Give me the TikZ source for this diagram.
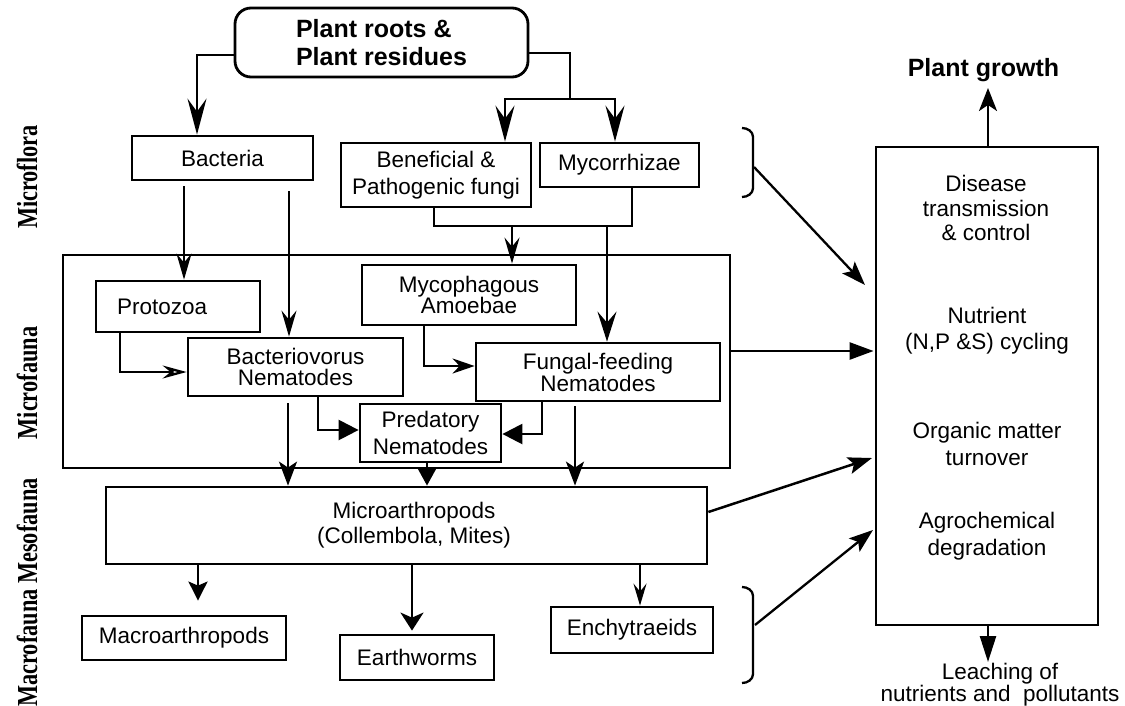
\documentclass[tikz,border=0pt]{standalone}
\usepackage{fontspec}
\setmainfont{Liberation Sans}
\newfontfamily\sidefont{Liberation Serif}
\usetikzlibrary{arrows.meta}
\tikzset{
  box/.style={draw, line width=2.8pt, inner sep=0pt, align=center, font=\fontsize{22.5}{27}\selectfont},
  txt/.style={inner sep=0pt, align=center, font=\fontsize{22.5}{24.5}\selectfont},
  conn/.style={line width=2.5pt},
  barb/.style={conn, -{Stealth[length=36pt,width=19pt,inset=13pt]}},
  medarrow/.style={conn, -{Stealth[length=26pt,width=15pt,inset=9pt]}},
  downarrow/.style={conn, -{Stealth[length=24pt,width=18pt,inset=6pt]}},
  openarrow/.style={line width=2.3pt, -{Stealth[open,length=24pt,width=13pt,inset=8pt]}},
  narrowarrow/.style={conn, -{Stealth[length=22pt,width=15pt,inset=7pt]}},
  tri/.style={conn, -{Triangle[length=20pt,width=20pt]}},
  lowarrow/.style={conn, -{Stealth[length=19pt,width=19pt,inset=4pt]}},
  sidearrow/.style={line width=2.3pt, -{Stealth[length=24pt,width=17pt,inset=5pt]}},
  bracket/.style={line width=2.3pt},
  side/.style={inner sep=0pt, rotate=90, font=\sidefont\bfseries\fontsize{29}{29}\selectfont},
}
\begin{document}
\begin{tikzpicture}[x=1pt,y=-1pt]
\useasboundingbox (0,0) rectangle (1125,705);

% side labels
\node[side] (lflora) at (27,177) {\scalebox{0.77}[1]{Microflora}};
\node[side] (lfauna) at (27,383) {\scalebox{0.77}[1]{Microfauna}};
\node[side] (lmeso) at (27,531) {\scalebox{0.77}[1]{Mesofauna}};
\node[side] (lmacro) at (27,648) {\scalebox{0.77}[1]{Macrofauna}};

% top source
\node[draw, line width=2.8pt, rounded corners=16pt, inner sep=0pt, minimum width=293pt, minimum height=69pt,
      align=left, font=\bfseries\fontsize{25}{28}\selectfont] (roots) at (381.5,42.5) {Plant roots \&\\Plant residues};

% microflora
\node[box, minimum width=181pt, minimum height=44pt] (bact) at (222.5,158) {Bacteria};
\node[box, minimum width=190pt, minimum height=64pt] (benef) at (436,175) {Beneficial \&\\Pathogenic fungi};
\node[box, minimum width=159pt, minimum height=44pt] (myco) at (619.5,165) {Mycorrhizae};

% microfauna frame
\node[draw, line width=2.8pt, inner sep=0pt, minimum width=667pt, minimum height=213pt] (mfbox) at (396.5,361.5) {};

\node[box, text width=122pt, inner xsep=21pt, align=left, minimum height=51pt] (proto) at (178,306.5) {Protozoa};
\node[box, minimum width=215pt, minimum height=58pt, font=\fontsize{22.5}{21}\selectfont] (bacnem) at (295.5,367) {Bacteriovorus\\Nematodes};
\node[box, minimum width=214pt, minimum height=60pt, font=\fontsize{22.5}{21}\selectfont] (mycoam) at (469,295) {Mycophagous\\Amoebae};
\node[box, minimum width=244pt, minimum height=58pt, font=\fontsize{22.5}{20.5}\selectfont] (fungnem) at (598,372) {Fungal-feeding\\Nematodes};
\node[box, minimum width=141pt, minimum height=58pt] (pred) at (430.5,433) {Predatory\\Nematodes};

% mesofauna
\node[box, minimum width=601pt, minimum height=77pt, font=\fontsize{22.5}{25}\selectfont] (microarth) at (406.5,525.5) {\hspace*{15pt}Microarthropods\\\hspace*{15pt}(Collembola, Mites)};

% macrofauna
\node[box, minimum width=204pt, minimum height=44pt] (macro) at (184,638) {Macroarthropods};
\node[box, minimum width=154pt, minimum height=45pt] (earth) at (417,657.5) {Earthworms};
\node[box, minimum width=162pt, minimum height=46pt] (ench) at (632,630) {Enchytraeids};

% right side
\node[draw, line width=2.8pt, inner sep=0pt, minimum width=222pt, minimum height=478pt] (rbox) at (987,386) {};
\node[txt] (dis) at (986,208) {Disease\\transmission\\\& control};
\node[txt, font=\fontsize{22.5}{26}\selectfont] (nut) at (987,331) {Nutrient\\(N,P \&S) cycling};
\node[txt, font=\fontsize{22.5}{27}\selectfont] (org) at (987,444) {Organic matter\\turnover};
\node[txt, font=\fontsize{22.5}{27}\selectfont] (agro) at (987,536) {Agrochemical\\degradation};
\node[inner sep=0pt, font=\bfseries\fontsize{25}{28}\selectfont] (pg) at (983.5,70) {Plant growth};
\node[txt, font=\fontsize{22.5}{19}\selectfont] (leach) at (1000,685) {Leaching of\\nutrients and\ \ pollutants};

% brackets
\draw[bracket] (742,128) to[out=0,in=90] (753,137) -- (753,188) to[out=-90,in=0] (742,197);
\draw[bracket] (742,587) to[out=0,in=90] (753,596) -- (753,674) to[out=-90,in=0] (742,683);
\coordinate (ubr) at (754,167);
\coordinate (lbr) at (755,625);

% connectors: top
\coordinate (jr) at (570,99);
\draw[barb] (roots.west |- 0,55) -| (bact.north -| 197,0);
\draw[conn] (roots.east |- 0,53) -| (jr);
\draw[barb] (jr) -| (benef.north -| 505,0);
\draw[barb] (jr) -| (myco.north -| 615,0);

% microflora -> microfauna
\coordinate (jb) at (512,226);
\draw[conn] (benef.south -| 434,0) |- (jb) -| (myco.south -| 632,0);
\draw[medarrow] (jb) -- (mycoam.north -| 512,0);
\draw[conn, -{Stealth[length=30pt,width=19pt,inset=11pt]}] (jb -| 607,0) -- (fungnem.north -| 607,0);
\draw[medarrow, shorten <=5pt] (bact.south -| 184,0) -- (proto.north -| 184,0);
\draw[medarrow, shorten <=10pt] (bact.south -| 289,0) -- (bacnem.north -| 289,0);

% within microfauna
\draw[openarrow] (proto.south -| 120,0) |- (bacnem.west |- 0,372);
\draw[narrowarrow] (mycoam.south -| 424,0) |- (fungnem.west |- 0,366);
\draw[tri] (bacnem.south -| 318,0) |- (pred.west |- 0,430);
\draw[tri] (fungnem.south -| 542,0) |- (pred.east |- 0,434);

% to microarthropods
\draw[downarrow, shorten <=6pt] (bacnem.south -| 288,0) -- (microarth.north -| 288,0);
\draw[downarrow, shorten <=4pt] (fungnem.south -| 575,0) -- (microarth.north -| 575,0);
\draw[conn, -{Triangle[length=18pt,width=19pt]}] (pred.south -| 427,0) -- (microarth.north -| 427,0);

% to macrofauna
\draw[lowarrow, shorten >=14pt] (microarth.south -| 198,0) -- (macro.north -| 198,0);
\draw[conn, -{Stealth[length=18pt,width=23pt,inset=5pt]}, shorten >=3pt] (microarth.south -| 412,0) -- (earth.north -| 412,0);
\draw[conn, -{Stealth[length=22pt,width=13pt,inset=8pt]}] (microarth.south -| 640,0) -- (ench.north -| 640,0);

% to right box
\coordinate (e1) at (865,285);
\coordinate (e3) at (872,458);
\coordinate (e4) at (873,530);
\draw[sidearrow] (ubr) -- (e1);
\draw[conn, -{Triangle[length=24pt,width=17pt]}] (mfbox.east |- 0,351) -- ([xshift=-1pt]rbox.west |- 0,351);
\draw[sidearrow, line width=2.5pt] (microarth.east |- 0,512) -- (e3);
\draw[sidearrow] (lbr) -- (e4);

% out of right box
\coordinate (pgt) at (988,88);
\coordinate (lt) at (988,662);
\draw[conn, -{Stealth[length=23pt,width=18pt,inset=6pt]}] (rbox.north -| 988,0) -- (pgt);
\draw[conn, -{Triangle[length=26pt,width=16pt]}] (rbox.south -| 988,0) -- (lt);
\end{tikzpicture}
\end{document}
